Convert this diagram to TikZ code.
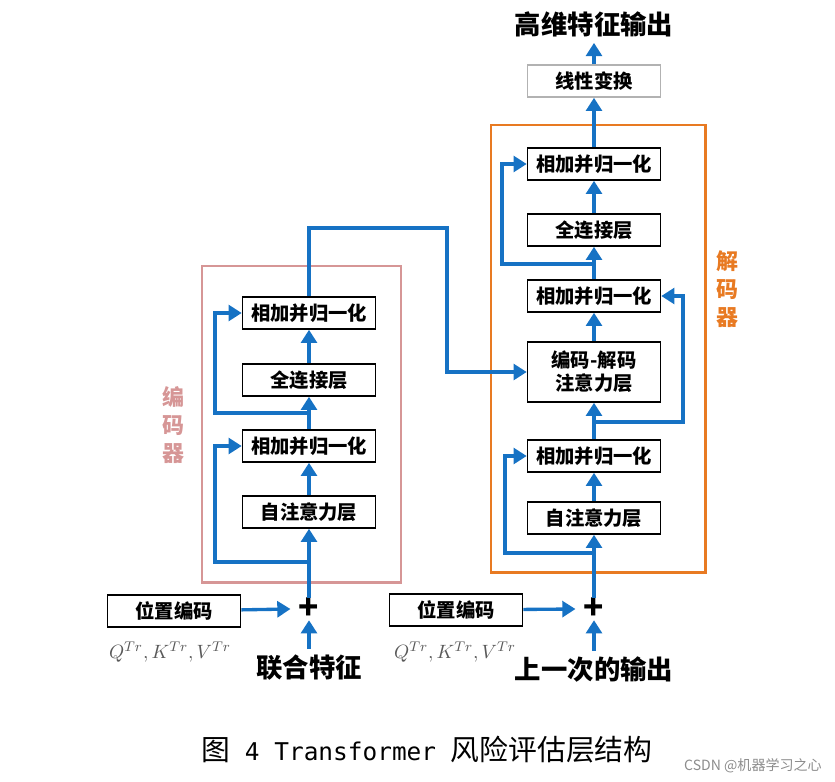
\documentclass[tikz,border=0pt]{standalone}
\usepackage{fontspec}
\usepackage{tikz}
\usetikzlibrary{arrows.meta, positioning, calc}
\newfontfamily\cjk{Noto Sans CJK SC}
\newfontfamily\capmono{DejaVu Sans Mono}
\definecolor{flowblue}{RGB}{22,114,196}
\definecolor{encpink}{RGB}{214,150,150}
\definecolor{decorange}{RGB}{232,122,34}

\begin{document}
\begin{tikzpicture}[x=0.02cm, y=-0.02cm,
  layer/.style={draw, line width=0.9pt, fill=white, minimum width=2.66cm, minimum height=0.64cm, inner sep=0pt, align=center, font=\cjk\bfseries\fontsize{11}{13}\selectfont},
  flow/.style={draw=flowblue, line width=1.9pt, -{Triangle[length=7.5pt, width=9pt]}},
  plus/.style={inner sep=0pt, font=\cjk\bfseries\fontsize{19}{19}\selectfont},
  big/.style={font=\cjk\bfseries\fontsize{15}{17}\selectfont},
  qkv/.style={text=black!65, font=\fontsize{11}{12}\selectfont},
  side/.style={align=center, font=\cjk\bfseries\fontsize{12.5}{16}\selectfont},
]
\useasboundingbox (0,0) rectangle (835,781);

% Encoder
\draw[encpink, line width=1.7pt] (202,266) rectangle (401,582);
\node[side, text=encpink] (elabel) at (173,425) {编\\码\\器};
\node[layer] (eadd2) at (309,313) {相加并归一化};
\node[layer] (effn) at (309,380) {全连接层};
\node[layer] (eadd1) at (309,446) {相加并归一化};
\node[layer] (eatt) at (309,512) {自注意力层};
\node[plus] (eplus) at (309,609) {+};
\node[layer] (epos) at (174,611) {位置编码};
\node[qkv] (eqkv) at (170,652) {$Q^{Tr},K^{Tr},V^{Tr}$};
\node[big] (ein) at (309,668) {联合特征};
\coordinate (ej1) at (309,562);
\coordinate (el1) at (215,562);
\coordinate (ej2) at (309,413);
\coordinate (el2) at (215,413);
\coordinate (ebend) at (447,228);

\draw[flow] (ein) -- (eplus);
\draw[flow] (epos) -- ($(eplus.west)+(-8,0)$);
\draw[flow] (eplus) -- (eatt);
\draw[flow] (ej1) -- (el1) |- (eadd1.west);
\draw[flow] (eatt) -- (eadd1);
\draw[flow] (eadd1) -- (effn);
\draw[flow] (ej2) -- (el2) |- (eadd2.west);
\draw[flow] (effn) -- (eadd2);

% Decoder
\draw[decorange, line width=1.7pt] (491,125) rectangle (705,572);
\node[side, text=decorange] (dlabel) at (727,289) {解\\码\\器};
\node[big] (dout) at (594,24) {高维特征输出};
\node[layer, draw=black!30] (dlin) at (594,81) {线性变换};
\node[layer] (dadd3) at (594,164) {相加并归一化};
\node[layer] (dffn) at (594,230) {全连接层};
\node[layer] (dadd2) at (594,296) {相加并归一化};
\node[layer, minimum height=1.2cm] (dcross) at (594,372) {编码-解码\\注意力层};
\node[layer] (dadd1) at (594,456) {相加并归一化};
\node[layer] (datt) at (594,518) {自注意力层};
\node[plus] (dplus) at (594,609) {+};
\node[layer] (dpos) at (456,610) {位置编码};
\node[qkv] (dqkv) at (455,652) {$Q^{Tr},K^{Tr},V^{Tr}$};
\node[big] (din) at (594,670) {上一次的输出};
\coordinate (dj1) at (594,553);
\coordinate (dl1) at (505,553);
\coordinate (dj2) at (594,422);
\coordinate (dr2) at (683,422);
\coordinate (dj3) at (594,264);
\coordinate (dl3) at (502,264);

\draw[flow] (din) -- (dplus);
\draw[flow] (dpos) -- ($(dplus.west)+(-8,0)$);
\draw[flow] (dplus) -- (datt);
\draw[flow] (dj1) -- (dl1) |- (dadd1.west);
\draw[flow] (datt) -- (dadd1);
\draw[flow] (dadd1) -- (dcross);
\draw[flow] (dj2) -- (dr2) |- (dadd2.east);
\draw[flow] (dcross) -- (dadd2);
\draw[flow] (dadd2) -- (dffn);
\draw[flow] (dj3) -- (dl3) |- (dadd3.west);
\draw[flow] (dffn) -- (dadd3);
\draw[flow] (dadd3) -- (dlin);
\draw[flow] (dlin) -- (dout);

% Encoder output into decoder
\draw[flow] (eadd2) |- (ebend) |- (dcross);

% Caption
\node[inner sep=0pt] (caption) at (427,750) {{\cjk\fontsize{16.4}{18}\selectfont 图}{\capmono\fontsize{13.9}{16}\selectfont\ 4 Transformer\ }{\cjk\fontsize{16.4}{18}\selectfont 风险评估层结构}};
\node[text=black!45, font=\cjk\fontsize{8}{9}\selectfont] (mark) at (753,766) {CSDN @机器学习之心};
\end{tikzpicture}
\end{document}
